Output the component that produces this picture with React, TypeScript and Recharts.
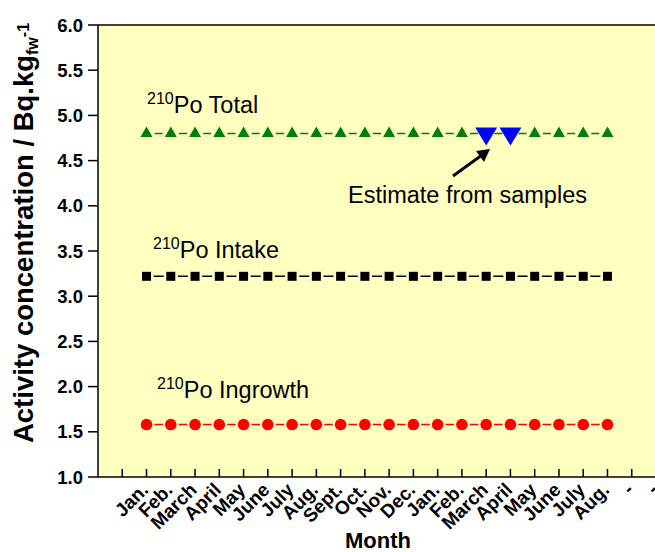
import React from "react";
import { LineChart, Line, XAxis, YAxis, CartesianGrid, ReferenceLine } from "recharts";

// month index 1..20 on the x axis; 0, 21, 22 are empty slots
const tickLabels = [
  "", "Jan.", "Feb.", "March", "April", "May", "June", "July", "Aug.", "Sept.", "Oct.", "Nov.", "Dec.",
  "Jan.", "Feb.", "March", "April", "May", "June", "July", "Aug.", "-", "-",
];
const monthIdx = [1, 2, 3, 4, 5, 6, 7, 8, 9, 10, 11, 12, 13, 14, 15, 16, 17, 18, 19, 20];
const totalPo = [4.8, 4.8, 4.8, 4.8, 4.8, 4.8, 4.8, 4.8, 4.8, 4.8, 4.8, 4.8, 4.8, 4.8, 4.8, 4.8, 4.8, 4.8, 4.8, 4.8];
const intakePo = [3.22, 3.22, 3.22, 3.22, 3.22, 3.22, 3.22, 3.22, 3.22, 3.22, 3.22, 3.22, 3.22, 3.22, 3.22, 3.22, 3.22, 3.22, 3.22, 3.22];
const ingrowthPo = [1.58, 1.58, 1.58, 1.58, 1.58, 1.58, 1.58, 1.58, 1.58, 1.58, 1.58, 1.58, 1.58, 1.58, 1.58, 1.58, 1.58, 1.58, 1.58, 1.58];
const estimateIdx = [15, 16];
const estimateVal = [4.8, 4.8];
const yTicks = [1, 1.5, 2, 2.5, 3, 3.5, 4, 4.5, 5, 5.5, 6];
const xTicks = [0, 1, 2, 3, 4, 5, 6, 7, 8, 9, 10, 11, 12, 13, 14, 15, 16, 17, 18, 19, 20, 21, 22];

const data = monthIdx.map((m, i) => {
  const e = estimateIdx.indexOf(m);
  return {
    idx: m,
    total: totalPo[i],
    intake: intakePo[i],
    ingrowth: ingrowthPo[i],
    estimate: e >= 0 ? estimateVal[e] : null,
  };
});

const FONT = "'Liberation Sans', Arial, sans-serif";
const CHART_W = 680;
const CHART_H = 552;
const LEFT = 98;
const TOP = 25;
const BOTTOM = 477;
const RIGHT = 656;
const STEP = (RIGHT - LEFT) / 23;

const dash = (seg: number) => {
  const gap = (STEP - seg) / 2;
  return `0 ${gap} ${seg} ${gap}`;
};

const UpTri = (p: any) => {
  const { cx, cy, payload } = p;
  if (cx == null || cy == null || payload.estimate != null) return <g key={p.key} />;
  const w = 12, h = 10.5;
  return (
    <polygon key={p.key} points={`${cx},${cy - (2 * h) / 3} ${cx - w / 2},${cy + h / 3} ${cx + w / 2},${cy + h / 3}`} fill="#008000" />
  );
};

const DownTri = (p: any) => {
  const { cx, cy } = p;
  if (cx == null || cy == null) return <g key={p.key} />;
  const w = 22, h = 18;
  return (
    <polygon key={p.key} points={`${cx - w / 2},${cy - h / 3} ${cx + w / 2},${cy - h / 3} ${cx},${cy + (2 * h) / 3}`} fill="#0000FF" />
  );
};

const Square = (p: any) => {
  const { cx, cy } = p;
  if (cx == null || cy == null) return <g key={p.key} />;
  return <rect key={p.key} x={cx - 4.5} y={cy - 4.5} width={9} height={9} fill="#000" />;
};

const Dot = (p: any) => {
  const { cx, cy } = p;
  if (cx == null || cy == null) return <g key={p.key} />;
  return <circle key={p.key} cx={cx} cy={cy} r={5.8} fill="#FF0000" />;
};

// inward tick + rotated month label
const MonthTick = (p: any) => {
  const { x, payload } = p;
  const label = tickLabels[payload.value] ?? "";
  const tx = x + 3;
  const ty = BOTTOM + 14;
  return (
    <g>
      <line x1={x} y1={BOTTOM} x2={x} y2={BOTTOM - 8} stroke="#000" strokeWidth={1.5} />
      <text x={tx} y={ty} transform={`rotate(-45, ${tx}, ${ty})`} textAnchor="end" fontFamily={FONT} fontWeight="bold" fontSize={19} fill="#000">
        {label}
      </text>
    </g>
  );
};

// inward tick on the right axis, no label
const RightTick = (p: any) => (
  <line x1={RIGHT - 8} y1={p.y} x2={RIGHT} y2={p.y} stroke="#000" strokeWidth={1.5} />
);

const PoLabel = ({ x, y, text }: { x: number; y: number; text: string }) => (
  <text x={x} y={y} fontFamily={FONT} fontSize={23.5} fill="#000">
    <tspan fontSize={16} dy={-9}>210</tspan>
    <tspan dy={9}>Po {text}</tspan>
  </text>
);

export default function App() {
  return (
    <div style={{ position: "absolute", left: 0, top: 0, width: 655, height: 552, overflow: "hidden", background: "#fff" }}>
      <LineChart
        width={CHART_W}
        height={CHART_H}
        data={data}
        margin={{ top: TOP, right: 0, bottom: 0, left: 0 }}
      >
        <CartesianGrid horizontal={false} vertical={false} fill="#FFFFC0" fillOpacity={1} />
        <XAxis
          dataKey="idx"
          type="number"
          domain={[-1, 22]}
          ticks={xTicks}
          interval={0}
          height={CHART_H - BOTTOM}
          tickLine={false}
          stroke="#000"
          strokeWidth={1.5}
          tick={<MonthTick />}
        />
        <YAxis
          domain={[1, 6]}
          ticks={yTicks}
          width={LEFT}
          tickSize={10}
          tickMargin={5}
          stroke="#000"
          strokeWidth={1.5}
          tick={{ fontFamily: FONT, fontWeight: "bold", fontSize: 18.5, fill: "#000" }}
          tickFormatter={(v: number) => v.toFixed(1)}
        />
        <YAxis
          yAxisId="r"
          orientation="right"
          width={CHART_W - RIGHT}
          domain={[1, 6]}
          ticks={yTicks}
          tickLine={false}
          stroke="#000"
          strokeWidth={1.5}
          tick={<RightTick />}
        />
        <ReferenceLine y={6} stroke="#000" strokeWidth={1.5} />
        <Line dataKey="total" stroke="#008000" strokeWidth={1.5} strokeDasharray={dash(8)} dot={UpTri} activeDot={false} isAnimationActive={false} />
        <Line dataKey="intake" stroke="#000" strokeWidth={1.5} strokeDasharray={dash(10)} dot={Square} activeDot={false} isAnimationActive={false} />
        <Line dataKey="ingrowth" stroke="#FF0000" strokeWidth={1.5} strokeDasharray={dash(8.5)} dot={Dot} activeDot={false} isAnimationActive={false} />
        <Line dataKey="estimate" stroke="none" dot={DownTri} activeDot={false} isAnimationActive={false} />
      </LineChart>
      <svg width={655} height={552} style={{ position: "absolute", left: 0, top: 0, pointerEvents: "none" }}>
        <PoLabel x={147} y={113} text="Total" />
        <PoLabel x={153} y={258} text="Intake" />
        <PoLabel x={157} y={398} text="Ingrowth" />
        <text x={348} y={203} fontFamily={FONT} fontSize={23.5} fill="#000">Estimate from samples</text>
        <line x1={453} y1={176} x2={482} y2={155} stroke="#000" strokeWidth={3} />
        <polygon points="490,149 476,151 484,162" fill="#000" />
        <text transform="translate(33, 233) rotate(-90)" textAnchor="middle" fontFamily={FONT} fontWeight="bold" fontSize={27.5} fill="#000">
          Activity concentration / Bq.kg
          <tspan fontSize={16} dy={5}>fw</tspan>
          <tspan fontSize={16} dy={-9}>-1</tspan>
        </text>
        <text x={378} y={548} textAnchor="middle" fontFamily={FONT} fontWeight="bold" fontSize={22} fill="#000">Month</text>
      </svg>
    </div>
  );
}
